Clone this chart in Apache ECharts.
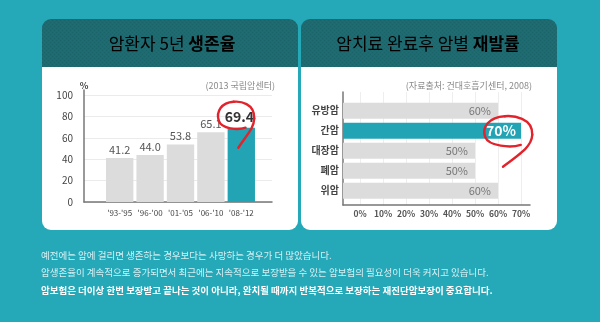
<!DOCTYPE html>
<html><head><meta charset="utf-8">
<script src="https://cdn.jsdelivr.net/npm/echarts@6/dist/echarts.min.js"></script>
<style>html,body{margin:0;padding:0;background:#25a9b9;} #c{width:600px;height:322px;}</style>
</head><body><div id="c"></div>
<script>
// ---- data ----
const survivalCategories = ["'93-'95", "'96-'00", "'01-'05", "'06-'10", "'08-'12"];
const survivalRates = [41.2, 44.0, 53.8, 65.1, 69.4];
const survivalTicks = [0, 20, 40, 60, 80, 100];
const recurrenceCategories = ['유방암', '간암', '대장암', '폐암', '위암'];
const recurrenceRates = [60, 70, 50, 50, 60];
const recurrenceTicks = [0, 10, 20, 30, 40, 50, 60, 70];
const highlightSurvival = 4;
const highlightRecurrence = 1;
const leftTitle = ['암환자 5년 ', '생존율'];
const rightTitle = ['암치료 완료후 암별 ', '재발률'];
const leftSource = '(2013 국립암센터)';
const rightSource = '(자료출처: 건대호흡기센터, 2008)';
const bodyLines = [
  '예전에는 암에 걸리면 생존하는 경우보다는 사망하는 경우가 더 많았습니다.',
  '암생존율이 계속적으로 증가되면서 최근에는 지속적으로 보장받을 수 있는 암보험의 필요성이 더욱 커지고 있습니다.',
  '암보험은 더이상 한번 보장받고 끝나는 것이 아니라, 완치될 때까지 반복적으로 보장하는 재진단암보장이 중요합니다.'
];

// ---- style ----
const FONT = '"Noto Sans CJK KR", "Noto Sans", sans-serif';
const TEAL = '#22a4b4';
const GRAY = '#dcdcdc';
const RED = '#e3232b';
const HEADER = '#1d6a70';
const AXIS = '#777';
const R_FRAME_LEFT = 343;

// header pattern
const pc = document.createElement('canvas');
pc.width = 4; pc.height = 4;
const pctx = pc.getContext('2d');
pctx.fillStyle = HEADER; pctx.fillRect(0, 0, 4, 4);
pctx.fillStyle = '#1a6369';
pctx.fillRect(0, 0, 1, 1); pctx.fillRect(2, 2, 1, 1);
pctx.fillStyle = '#206e74';
pctx.fillRect(2, 0, 1, 1); pctx.fillRect(0, 2, 1, 1);

const chart = echarts.init(document.getElementById('c'), null, {renderer: 'canvas'});

function panel(x, w) {
  return [
    {type: 'rect', z: -20, shape: {x: x, y: 19, width: w, height: 50, r: [9, 9, 0, 0]}, style: {fill: {image: pc, repeat: 'repeat'}}},
    {type: 'rect', z: -20, shape: {x: x, y: 67, width: w, height: 163, r: [0, 0, 9, 9]}, style: {fill: '#fff'}}
  ];
}
function titleText(cx, parts) {
  return {type: 'text', z: 10, style: {
    text: '{a|' + parts[0] + '}{b|' + parts[1] + '}', x: cx, y: 44, align: 'center', verticalAlign: 'middle',
    rich: {
      a: {fontFamily: FONT, fontSize: 17, color: '#fff', fontWeight: 'normal'},
      b: {fontFamily: FONT, fontSize: 17, color: '#fff', fontWeight: 'bold'}
    }
  }};
}

const graphics = [].concat(
  panel(42, 256), panel(301, 256),
  [titleText(172, leftTitle), titleText(428, rightTitle),
   {type: 'text', z: 10, style: {text: '%', x: 84, y: 86, align: 'center', verticalAlign: 'middle', fontFamily: FONT, fontSize: 9, fontWeight: 'bold', fill: '#444'}},
   {type: 'text', z: 10, style: {text: leftSource, x: 275, y: 86, align: 'right', verticalAlign: 'middle', fontFamily: FONT, fontSize: 9, fill: '#8a8a8a'}},
   {type: 'text', z: 10, style: {text: rightSource, x: 532, y: 86, align: 'right', verticalAlign: 'middle', fontFamily: FONT, fontSize: 9, fill: '#8a8a8a'}}
  ],
  bodyLines.map((t, i) => ({type: 'text', z: 10, style: {
    text: t, x: 41, y: [255, 272, 290][i], verticalAlign: 'middle', fontFamily: FONT,
    fontSize: 9.5, fontWeight: i === 2 ? 'bold' : 'normal', fill: i === 2 ? '#ffffff' : '#d6eff3'
  }}))
);

const hidden = {show: false};
const option = {
  animation: false,
  backgroundColor: '#25a9b9',
  textStyle: {fontFamily: FONT},
  grid: [
    {left: 84, top: 90, width: 188, height: 112},       // 0 left frame
    {left: 84, top: 95, width: 188, height: 107},       // 1 left ticks
    {left: 104.5, top: 95, width: 152, height: 107},    // 2 left bars
    {left: R_FRAME_LEFT, top: 92, width: 187, height: 113}, // 3 right frame
    {left: 360, top: 92, width: 161, height: 113},      // 4 right ticks
    {left: 360, top: 100.7, width: 161, height: 100}    // 5 right bars
  ],
  xAxis: [
    {gridIndex: 0, type: 'value', min: 0, max: 1, axisLine: {show: true, onZero: false, lineStyle: {color: AXIS, width: 1.5}}, axisTick: hidden, axisLabel: hidden, splitLine: hidden},
    {gridIndex: 1, type: 'value', min: 0, max: 1, show: false},
    {gridIndex: 2, type: 'category', data: survivalCategories, axisLine: hidden, axisTick: hidden,
      axisLabel: {interval: 0, margin: 7, fontSize: 8, color: '#444', fontFamily: FONT}},
    {gridIndex: 3, type: 'value', min: 0, max: 1, axisLine: {show: true, onZero: false, lineStyle: {color: AXIS, width: 1.5}}, axisTick: hidden, axisLabel: hidden, splitLine: hidden},
    {gridIndex: 4, type: 'value', min: recurrenceTicks[0], max: recurrenceTicks[recurrenceTicks.length - 1], interval: recurrenceTicks[1] - recurrenceTicks[0],
      axisLine: hidden, axisTick: hidden, splitLine: {show: true, lineStyle: {color: '#eeeeee', width: 1}},
      axisLabel: {margin: 5, fontSize: 8.5, fontWeight: 'bold', color: '#555', fontFamily: FONT, formatter: '{value}%'}},
    {gridIndex: 5, type: 'value', min: recurrenceTicks[0], max: recurrenceTicks[recurrenceTicks.length - 1], show: false}
  ],
  yAxis: [
    {gridIndex: 0, type: 'value', min: 0, max: 1, axisLine: {show: true, onZero: false, lineStyle: {color: AXIS, width: 1.5}}, axisTick: hidden, axisLabel: hidden, splitLine: hidden},
    {gridIndex: 1, type: 'value', min: survivalTicks[0], max: survivalTicks[survivalTicks.length - 1], interval: survivalTicks[1] - survivalTicks[0],
      axisLine: hidden, axisTick: hidden, splitLine: {show: true, lineStyle: {color: '#ebebeb', width: 1}},
      axisLabel: {margin: 11, fontSize: 10, color: '#444', fontFamily: FONT}},
    {gridIndex: 2, type: 'value', min: survivalTicks[0], max: survivalTicks[survivalTicks.length - 1], show: false},
    {gridIndex: 3, type: 'value', min: 0, max: 1, axisLine: {show: true, onZero: false, lineStyle: {color: AXIS, width: 1.5}}, axisTick: hidden, axisLabel: hidden, splitLine: hidden},
    {gridIndex: 4, type: 'value', min: 0, max: 1, show: false},
    {gridIndex: 5, type: 'category', inverse: true, data: recurrenceCategories, axisLine: hidden, axisTick: hidden,
      axisLabel: {margin: 21, fontSize: 10, fontWeight: 'bold', color: '#444', fontFamily: FONT}}
  ],
  series: [
    {
      type: 'bar', xAxisIndex: 2, yAxisIndex: 2, barCategoryGap: '10%',
      data: survivalRates.map((v, i) => ({
        value: v,
        itemStyle: {color: i === highlightSurvival ? TEAL : GRAY},
        label: i === highlightSurvival
          ? {fontSize: 14, fontWeight: 'bold', color: '#333', distance: 4, offset: [-2, 0]}
          : {fontSize: 11, color: '#555', distance: 3}
      })),
      label: {show: true, position: 'top', fontFamily: FONT, formatter: p => p.value.toFixed(1)}
    },
    {
      type: 'custom', xAxisIndex: 5, yAxisIndex: 5,
      data: recurrenceRates.map((v, i) => [v, i]),
      encode: {x: 0, y: 1},
      renderItem: (params, api) => {
        const i = params.dataIndex;
        const v = api.value(0);
        const end = api.coord([v, i]);
        const h = api.size([0, 1])[1] * 0.8;
        const hl = i === highlightRecurrence;
        return {type: 'group', children: [
          {type: 'rect', shape: {x: R_FRAME_LEFT, y: end[1] - h / 2, width: end[0] - R_FRAME_LEFT, height: h}, style: {fill: hl ? TEAL : GRAY}},
          {type: 'text', z2: 5, style: {text: v + '%', x: end[0] - (hl ? 5 : 7), y: end[1], align: 'right', verticalAlign: 'middle',
            fill: hl ? '#fff' : '#777', fontFamily: FONT, fontSize: hl ? 14 : 11, fontWeight: hl ? 'bold' : 'normal'}}
        ]};
      }
    }
  ],
  graphic: graphics
};
chart.setOption(option);

// hand-drawn red circles around highlighted values (bezier segments)
function scribble(cx, cy, rx, ry, tx, ty) {
  const P = (a, b) => [cx + rx * a, cy + ry * b];
  const segs = [
    {s: [tx, ty], c1: P(0.6, 1.3), c2: P(0.95, 0.9), e: P(0.97, 0.2)},
    {s: P(0.97, 0.2), c1: P(1.0, -0.9), c2: P(0.2, -1.05), e: P(-0.15, -1.0)},
    {s: P(-0.15, -1.0), c1: P(-0.8, -0.95), c2: P(-1.1, -0.3), e: P(-0.95, 0.35)},
    {s: P(-0.95, 0.35), c1: P(-0.8, 0.95), c2: P(0.1, 1.05), e: P(0.5, 0.85)}
  ];
  return segs.map(g => ({
    type: 'bezierCurve', z: 100,
    shape: {x1: g.s[0], y1: g.s[1], cpx1: g.c1[0], cpy1: g.c1[1], cpx2: g.c2[0], cpy2: g.c2[1], x2: g.e[0], y2: g.e[1]},
    style: {fill: null, stroke: RED, lineWidth: 2.4, lineCap: 'round'}
  }));
}
const pL = chart.convertToPixel({xAxisIndex: 2, yAxisIndex: 2}, [highlightSurvival, survivalRates[highlightSurvival]]);
const pR = chart.convertToPixel({xAxisIndex: 5, yAxisIndex: 5}, [recurrenceRates[highlightRecurrence], highlightRecurrence]);
chart.setOption({graphic: graphics.concat(
  scribble(pL[0] - 5, pL[1] - 12, 18.5, 14, pL[0] - 3, pL[1] + 20),
  scribble(pR[0] - 12.5, pR[1] + 1, 24.5, 15.5, pR[0] - 18, pR[1] + 36)
)});
</script>
</body></html>
